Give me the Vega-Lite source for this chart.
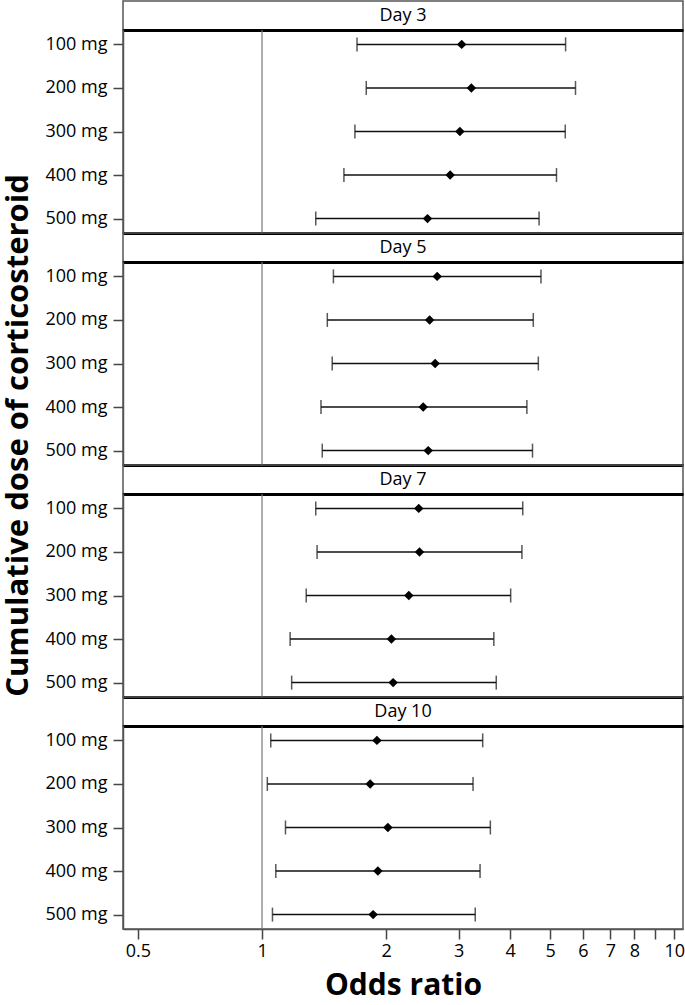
{
  "$schema": "https://vega.github.io/schema/vega-lite/v6.json",
  "padding": {"left": 1, "top": 0, "right": 1, "bottom": 0},
  "spacing": 0,
  "bounds": "flush",
  "datasets": {
    "days": [{"day": "Day 3"}, {"day": "Day 5"}, {"day": "Day 7"}, {"day": "Day 10"}],
    "ci": [
      {"day": "Day 3", "dose": "100 mg", "or": 3.05, "lo": 1.70, "hi": 5.45},
      {"day": "Day 3", "dose": "200 mg", "or": 3.22, "lo": 1.79, "hi": 5.76},
      {"day": "Day 3", "dose": "300 mg", "or": 3.02, "lo": 1.68, "hi": 5.44},
      {"day": "Day 3", "dose": "400 mg", "or": 2.86, "lo": 1.58, "hi": 5.18},
      {"day": "Day 3", "dose": "500 mg", "or": 2.52, "lo": 1.35, "hi": 4.70},
      {"day": "Day 5", "dose": "100 mg", "or": 2.66, "lo": 1.49, "hi": 4.75},
      {"day": "Day 5", "dose": "200 mg", "or": 2.55, "lo": 1.44, "hi": 4.55},
      {"day": "Day 5", "dose": "300 mg", "or": 2.63, "lo": 1.48, "hi": 4.68},
      {"day": "Day 5", "dose": "400 mg", "or": 2.46, "lo": 1.39, "hi": 4.39},
      {"day": "Day 5", "dose": "500 mg", "or": 2.53, "lo": 1.40, "hi": 4.53},
      {"day": "Day 7", "dose": "100 mg", "or": 2.40, "lo": 1.35, "hi": 4.29},
      {"day": "Day 7", "dose": "200 mg", "or": 2.41, "lo": 1.36, "hi": 4.27},
      {"day": "Day 7", "dose": "300 mg", "or": 2.27, "lo": 1.28, "hi": 4.01},
      {"day": "Day 7", "dose": "400 mg", "or": 2.06, "lo": 1.17, "hi": 3.65},
      {"day": "Day 7", "dose": "500 mg", "or": 2.08, "lo": 1.18, "hi": 3.70},
      {"day": "Day 10", "dose": "100 mg", "or": 1.90, "lo": 1.05, "hi": 3.43},
      {"day": "Day 10", "dose": "200 mg", "or": 1.83, "lo": 1.03, "hi": 3.25},
      {"day": "Day 10", "dose": "300 mg", "or": 2.02, "lo": 1.14, "hi": 3.58},
      {"day": "Day 10", "dose": "400 mg", "or": 1.91, "lo": 1.08, "hi": 3.38},
      {"day": "Day 10", "dose": "500 mg", "or": 1.86, "lo": 1.06, "hi": 3.29}
    ]
  },
  "vconcat": [
    {
      "width": 560, "height": 29,
      "data": {"name": "days"},
      "transform": [{"filter": "datum.day == 'Day 3'"}],
      "layer": [
        {"mark": {"type": "text", "font": "Open Sans", "fontSize": 18, "color": "black"},
         "encoding": {"text": {"field": "day"}}},
        {"mark": {"type": "rule", "opacity": 0},
         "encoding": {"x": {"datum": 1, "type": "quantitative", "scale": {"type": "log", "domain": [0.46, 10.5], "nice": false}, "axis": null}}}
      ]
    },
    {
      "width": 560, "height": 203,
      "data": {"name": "ci"},
      "transform": [{"filter": "datum.day == 'Day 3'"}],
      "layer": [
        {
          "data": {"values": [{"ref": 1}]},
          "mark": {"type": "rule", "color": "#777", "strokeWidth": 1.2},
          "encoding": {
            "x": {"field": "ref", "type": "quantitative",
                  "scale": {"type": "log", "domain": [0.46, 10.5], "nice": false},
                  "axis": {"orient": "top", "domainColor": "black", "domainWidth": 3, "ticks": false, "labels": false, "title": null}}
          }
        },
        {
          "mark": {"type": "rule", "color": "#111", "strokeWidth": 1.5},
          "encoding": {
            "x": {"field": "lo", "type": "quantitative",
                  "axis": {"orient": "bottom", "domainColor": "black", "domainWidth": 3, "ticks": false, "labels": false, "title": null}},
            "x2": {"field": "hi"},
            "y": {"field": "dose", "type": "ordinal", "scale": {"type": "point", "padding": 0.33},
                  "axis": {"title": null}}
          }
        },
        {
          "mark": {"type": "tick", "color": "#111", "thickness": 1.5, "size": 14},
          "encoding": {"x": {"field": "lo", "type": "quantitative", "axis": null}, "y": {"field": "dose", "type": "ordinal"}}
        },
        {
          "mark": {"type": "tick", "color": "#111", "thickness": 1.5, "size": 14},
          "encoding": {"x": {"field": "hi", "type": "quantitative", "axis": null}, "y": {"field": "dose", "type": "ordinal"}}
        },
        {
          "mark": {"type": "point", "shape": "diamond", "filled": true, "color": "black", "size": 90, "opacity": 1},
          "encoding": {"x": {"field": "or", "type": "quantitative", "axis": null}, "y": {"field": "dose", "type": "ordinal"}}
        }
      ],
      "resolve": {"axis": {"x": "independent"}}
    },
    {
      "width": 560, "height": 29,
      "data": {"name": "days"},
      "transform": [{"filter": "datum.day == 'Day 5'"}],
      "layer": [
        {"mark": {"type": "text", "font": "Open Sans", "fontSize": 18, "color": "black"},
         "encoding": {"text": {"field": "day"}}},
        {"mark": {"type": "rule", "opacity": 0},
         "encoding": {"x": {"datum": 1, "type": "quantitative", "scale": {"type": "log", "domain": [0.46, 10.5], "nice": false}, "axis": null}}}
      ]
    },
    {
      "width": 560, "height": 203,
      "data": {"name": "ci"},
      "transform": [{"filter": "datum.day == 'Day 5'"}],
      "layer": [
        {
          "data": {"values": [{"ref": 1}]},
          "mark": {"type": "rule", "color": "#777", "strokeWidth": 1.2},
          "encoding": {
            "x": {"field": "ref", "type": "quantitative",
                  "scale": {"type": "log", "domain": [0.46, 10.5], "nice": false},
                  "axis": {"orient": "top", "domainColor": "black", "domainWidth": 3, "ticks": false, "labels": false, "title": null}}
          }
        },
        {
          "mark": {"type": "rule", "color": "#111", "strokeWidth": 1.5},
          "encoding": {
            "x": {"field": "lo", "type": "quantitative",
                  "axis": {"orient": "bottom", "domainColor": "black", "domainWidth": 3, "ticks": false, "labels": false, "title": null}},
            "x2": {"field": "hi"},
            "y": {"field": "dose", "type": "ordinal", "scale": {"type": "point", "padding": 0.33},
                  "axis": {"title": "Cumulative dose of corticosteroid", "titleY": 173, "titleFontSize": 31, "titleFontWeight": "bold", "titlePadding": 11}}
          }
        },
        {
          "mark": {"type": "tick", "color": "#111", "thickness": 1.5, "size": 14},
          "encoding": {"x": {"field": "lo", "type": "quantitative", "axis": null}, "y": {"field": "dose", "type": "ordinal"}}
        },
        {
          "mark": {"type": "tick", "color": "#111", "thickness": 1.5, "size": 14},
          "encoding": {"x": {"field": "hi", "type": "quantitative", "axis": null}, "y": {"field": "dose", "type": "ordinal"}}
        },
        {
          "mark": {"type": "point", "shape": "diamond", "filled": true, "color": "black", "size": 90, "opacity": 1},
          "encoding": {"x": {"field": "or", "type": "quantitative", "axis": null}, "y": {"field": "dose", "type": "ordinal"}}
        }
      ],
      "resolve": {"axis": {"x": "independent"}}
    },
    {
      "width": 560, "height": 29,
      "data": {"name": "days"},
      "transform": [{"filter": "datum.day == 'Day 7'"}],
      "layer": [
        {"mark": {"type": "text", "font": "Open Sans", "fontSize": 18, "color": "black"},
         "encoding": {"text": {"field": "day"}}},
        {"mark": {"type": "rule", "opacity": 0},
         "encoding": {"x": {"datum": 1, "type": "quantitative", "scale": {"type": "log", "domain": [0.46, 10.5], "nice": false}, "axis": null}}}
      ]
    },
    {
      "width": 560, "height": 203,
      "data": {"name": "ci"},
      "transform": [{"filter": "datum.day == 'Day 7'"}],
      "layer": [
        {
          "data": {"values": [{"ref": 1}]},
          "mark": {"type": "rule", "color": "#777", "strokeWidth": 1.2},
          "encoding": {
            "x": {"field": "ref", "type": "quantitative",
                  "scale": {"type": "log", "domain": [0.46, 10.5], "nice": false},
                  "axis": {"orient": "top", "domainColor": "black", "domainWidth": 3, "ticks": false, "labels": false, "title": null}}
          }
        },
        {
          "mark": {"type": "rule", "color": "#111", "strokeWidth": 1.5},
          "encoding": {
            "x": {"field": "lo", "type": "quantitative",
                  "axis": {"orient": "bottom", "domainColor": "black", "domainWidth": 3, "ticks": false, "labels": false, "title": null}},
            "x2": {"field": "hi"},
            "y": {"field": "dose", "type": "ordinal", "scale": {"type": "point", "padding": 0.33},
                  "axis": {"title": null}}
          }
        },
        {
          "mark": {"type": "tick", "color": "#111", "thickness": 1.5, "size": 14},
          "encoding": {"x": {"field": "lo", "type": "quantitative", "axis": null}, "y": {"field": "dose", "type": "ordinal"}}
        },
        {
          "mark": {"type": "tick", "color": "#111", "thickness": 1.5, "size": 14},
          "encoding": {"x": {"field": "hi", "type": "quantitative", "axis": null}, "y": {"field": "dose", "type": "ordinal"}}
        },
        {
          "mark": {"type": "point", "shape": "diamond", "filled": true, "color": "black", "size": 90, "opacity": 1},
          "encoding": {"x": {"field": "or", "type": "quantitative", "axis": null}, "y": {"field": "dose", "type": "ordinal"}}
        }
      ],
      "resolve": {"axis": {"x": "independent"}}
    },
    {
      "width": 560, "height": 29,
      "data": {"name": "days"},
      "transform": [{"filter": "datum.day == 'Day 10'"}],
      "layer": [
        {"mark": {"type": "text", "font": "Open Sans", "fontSize": 18, "color": "black"},
         "encoding": {"text": {"field": "day"}}},
        {"mark": {"type": "rule", "opacity": 0},
         "encoding": {"x": {"datum": 1, "type": "quantitative", "scale": {"type": "log", "domain": [0.46, 10.5], "nice": false}, "axis": null}}}
      ]
    },
    {
      "width": 560, "height": 203,
      "data": {"name": "ci"},
      "transform": [{"filter": "datum.day == 'Day 10'"}],
      "layer": [
        {
          "data": {"values": [{"ref": 1}]},
          "mark": {"type": "rule", "color": "#777", "strokeWidth": 1.2},
          "encoding": {
            "x": {"field": "ref", "type": "quantitative",
                  "scale": {"type": "log", "domain": [0.46, 10.5], "nice": false},
                  "axis": {"orient": "top", "domainColor": "black", "domainWidth": 3, "ticks": false, "labels": false, "title": null}}
          }
        },
        {
          "mark": {"type": "rule", "color": "#111", "strokeWidth": 1.5},
          "encoding": {
            "x": {"field": "lo", "type": "quantitative",
                  "axis": {"orient": "bottom", "values": [0.5, 1, 2, 3, 4, 5, 6, 7, 8, 9, 10],
                           "labelExpr": "datum.value == 9 ? '' : format(datum.value, '~g')",
                           "tickSize": 10, "tickColor": "#444", "tickWidth": 1.5,
                           "domainColor": "#555", "domainWidth": 1.5, "labelPadding": 3,
                           "title": "Odds ratio", "titleFontSize": 30, "titleFontWeight": "bold", "titlePadding": 10}},
            "x2": {"field": "hi"},
            "y": {"field": "dose", "type": "ordinal", "scale": {"type": "point", "padding": 0.33},
                  "axis": {"title": null}}
          }
        },
        {
          "mark": {"type": "tick", "color": "#111", "thickness": 1.5, "size": 14},
          "encoding": {"x": {"field": "lo", "type": "quantitative", "axis": null}, "y": {"field": "dose", "type": "ordinal"}}
        },
        {
          "mark": {"type": "tick", "color": "#111", "thickness": 1.5, "size": 14},
          "encoding": {"x": {"field": "hi", "type": "quantitative", "axis": null}, "y": {"field": "dose", "type": "ordinal"}}
        },
        {
          "mark": {"type": "point", "shape": "diamond", "filled": true, "color": "black", "size": 90, "opacity": 1},
          "encoding": {"x": {"field": "or", "type": "quantitative", "axis": null}, "y": {"field": "dose", "type": "ordinal"}}
        }
      ],
      "resolve": {"axis": {"x": "independent"}}
    }
  ],
  "config": {
    "font": "Open Sans",
    "view": {"stroke": "#555", "strokeWidth": 1.5},
    "axis": {
      "labelFont": "Open Sans", "labelFontSize": 18, "labelColor": "black",
      "titleFont": "Open Sans", "titleColor": "black",
      "grid": false, "tickColor": "#444", "tickSize": 10, "tickWidth": 1.5,
      "domainColor": "#555", "domainWidth": 1.5, "labelPadding": 6
    }
  }
}
